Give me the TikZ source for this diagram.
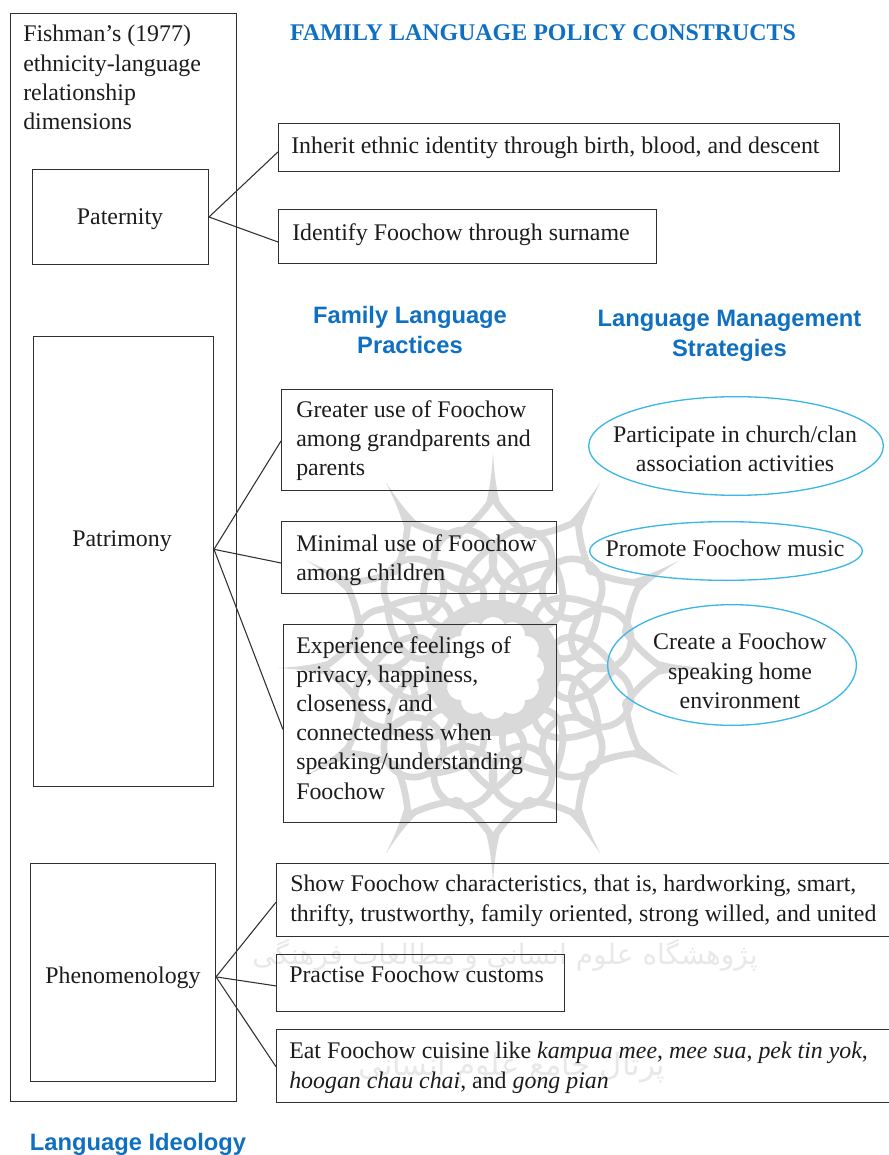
\documentclass[tikz,border=0pt]{standalone}
\usepackage{fontspec}
\usetikzlibrary{calc,shapes.geometric}
\setmainfont{Liberation Serif}
\newfontfamily\headsans{Liberation Sans}
\newfontfamily\arabicfont[Script=Arabic]{DejaVu Sans}
\TeXXeTstate=1
\definecolor{headblue}{HTML}{0F6FC1}
\definecolor{ellblue}{HTML}{3DB7E6}
\definecolor{wmark}{HTML}{D9D9D9}
\definecolor{wmarktext}{HTML}{E8E8E8}
\definecolor{inkline}{HTML}{303030}
\definecolor{inktext}{HTML}{1C1C1C}
\tikzset{
  x=0.75pt,y=-0.75pt,
  boxnode/.style={draw=inkline,line width=1pt,rectangle,inner sep=0pt,anchor=north west},
  conn/.style={draw=inkline,line width=0.8pt},
  bodytext/.style={anchor=north west,inner sep=0pt,align=left,text=inktext,font=\fontsize{17.9}{21.9}\selectfont},
  centertext/.style={anchor=center,inner sep=0pt,align=center,text=inktext,font=\fontsize{17.9}{21.9}\selectfont},
  ovalnode/.style={draw=ellblue,line width=1pt,ellipse,inner sep=0pt},
  headserif/.style={anchor=center,inner sep=0pt,text=headblue,font=\fontsize{17.95}{20}\selectfont\bfseries},
  headsansnode/.style={anchor=center,inner sep=0pt,align=center,text=headblue,font=\fontsize{17.8}{22}\selectfont\headsans\bfseries},
  wmline/.style={draw=wmark,line width=5pt,line cap=round},
  wmtext/.style={inner sep=0pt,text=wmarktext}
}
\newcommand{\bx}[5]{%
  \pgfmathsetmacro{\bw}{(#4-#2)*0.75-1}%
  \pgfmathsetmacro{\bh}{(#5-#3)*0.75-1}%
  \node[boxnode,minimum width=\bw pt,minimum height=\bh pt] (#1) at (#2,#3) {};}
\newcommand{\ov}[5]{%
  \pgfmathsetmacro{\bw}{#4*1.5-1}%
  \pgfmathsetmacro{\bh}{#5*1.5-1}%
  \node[ovalnode,minimum width=\bw pt,minimum height=\bh pt] (#1) at (#2,#3) {};}
\begin{document}
\begin{tikzpicture}
\useasboundingbox (0,0) rectangle (888,1155);
% watermark rosette
\begin{scope}[shift={(493,668)}]
  \fill[wmark] (0,0) circle[radius=68];
  \foreach \a in {0,30,...,330}{
    \begin{scope}[rotate=\a]
      \fill[white] (0,-38) circle[radius=13];
      \fill[wmark] (-7,-165) .. controls (-2,-185) and (-1,-200) .. (0,-215)
                   .. controls (1,-200) and (2,-185) .. (7,-165) -- cycle;
      \draw[wmline] (-37,-132) .. controls (-22,-142) and (-10,-155) .. (0,-170)
                    .. controls (10,-155) and (22,-142) .. (37,-132);
      \draw[wmline] (-22,-60) .. controls (-40,-75) and (-30,-100) .. (0,-122)
                    .. controls (30,-100) and (40,-75) .. (22,-60);
    \end{scope}
    \begin{scope}[rotate=\a+15]
      \draw[wmline] (0,-112) circle[radius=30];
    \end{scope}
  }
  \fill[white] (0,0) circle[radius=36];
\end{scope}
\node[wmtext,font=\arabicfont\fontsize{21}{24}\selectfont] (wmone) at (505,955) {\beginR پژوهشگاه علوم انسانی و مطالعات فرهنگی\endR};
\node[wmtext,font=\arabicfont\fontsize{23}{26}\selectfont] (wmtwo) at (512,1068) {\beginR پرتال جامع علوم انسانی\endR};
% boxes
\bx{outer}{10}{13}{237}{1102}
\bx{pat}{32}{169}{209}{265}
\bx{patri}{33}{336}{214}{787}
\bx{phen}{30}{863}{216}{1082}
\bx{inh}{278}{123}{840}{172}
\bx{ide}{278}{209}{657}{264}
\bx{gre}{281}{389}{553}{491}
\bx{mini}{281}{521}{557}{594}
\bx{exper}{283}{624}{557}{823}
\bx{show}{276}{863}{896}{937}
\bx{prac}{276}{954}{565}{1012}
\bx{eat}{276}{1029}{896}{1103}
% ovals
\ov{church}{736}{446}{148}{50}
\ov{promo}{726}{551}{137}{30}
\ov{creat}{732}{665}{125}{61}
% connectors
\draw[conn] (pat.east) -- ($(inh.north west)!0.59!(inh.south west)$);
\draw[conn] (pat.east) -- ($(ide.north west)!0.6!(ide.south west)$);
\draw[conn] ($(patri.north east)!0.473!(patri.south east)$) -- ($(gre.north west)!0.51!(gre.south west)$);
\draw[conn] ($(patri.north east)!0.473!(patri.south east)$) -- ($(mini.north west)!0.575!(mini.south west)$);
\draw[conn] ($(patri.north east)!0.473!(patri.south east)$) -- ($(exper.north west)!0.53!(exper.south west)$);
\draw[conn] ($(phen.north east)!0.52!(phen.south east)$) -- ($(show.north west)!0.53!(show.south west)$);
\draw[conn] ($(phen.north east)!0.52!(phen.south east)$) -- ($(prac.north west)!0.55!(prac.south west)$);
\draw[conn] ($(phen.north east)!0.52!(phen.south east)$) -- ($(eat.north west)!0.51!(eat.south west)$);
% headings
\node[headserif] (title) at (543,33) {FAMILY LANGUAGE POLICY CONSTRUCTS};
\node[headsansnode] (flp) at (410,330) {Family Language\\Practices};
\node[headsansnode] (lms) at (729.5,336) {Language Management\\Strategies};
\node[headsansnode] (lid) at (138,1144) {Language Ideology};
% texts
\node[bodytext] (fishT) at (23,25) {Fishman’s (1977)\\ethnicity-language\\relationship\\dimensions};
\node[centertext] (patT) at (120,219) {Paternity};
\node[centertext] (patriT) at (122,541) {Patrimony};
\node[centertext] (phenT) at (123,978) {Phenomenology};
\node[bodytext] (inhT) at (291,137) {Inherit ethnic identity through birth, blood, and descent};
\node[bodytext] (ideT) at (292,223) {Identify Foochow through surname};
\node[bodytext] (greT) at (296,400) {Greater use of Foochow\\among grandparents and\\parents};
\node[bodytext] (miniT) at (296,534) {Minimal use of Foochow\\among children};
\node[bodytext] (experT) at (296,636) {Experience feelings of\\privacy, happiness,\\closeness, and\\connectedness when\\speaking/understanding\\Foochow};
\node[bodytext] (showT) at (290,875) {Show Foochow characteristics, that is, hardworking, smart,\\thrifty, trustworthy, family oriented, strong willed, and united};
\node[bodytext] (pracT) at (289,966) {Practise Foochow customs};
\node[bodytext] (eatT) at (289,1042) {Eat Foochow cuisine like \textit{kampua mee}, \textit{mee sua}, \textit{pek tin yok},\\\textit{hoogan chau chai}, and \textit{gong pian}};
\node[centertext] (churchT) at (735,449) {Participate in church/clan\\association activities};
\node[centertext] (promoT) at (725,548) {Promote Foochow music};
\node[centertext] (creatT) at (740,671) {Create a Foochow\\speaking home\\environment};
\end{tikzpicture}
\end{document}
